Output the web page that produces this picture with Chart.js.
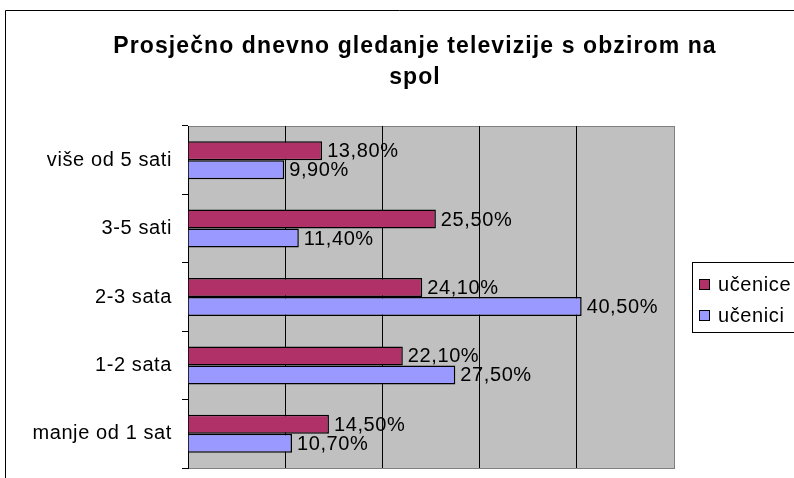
<!DOCTYPE html>
<html>
<head>
<meta charset="utf-8">
<script src="https://cdn.jsdelivr.net/npm/chart.js@4"></script>
<style>
  body { margin: 0; background: #fff; }
</style>
</head>
<body>
<canvas id="tvChart" width="794" height="478"></canvas>
<script>
// data
const titleLines = ['Prosječno dnevno gledanje televizije s obzirom na', 'spol'];
const categories = ['više od 5 sati', '3-5 sati', '2-3 sata', '1-2 sata', 'manje od 1 sat'];
const seriesNames = ['učenice', 'učenici'];
const ucenice = [13.8, 25.5, 24.1, 22.1, 14.5];
const ucenici = [9.9, 11.4, 40.5, 27.5, 10.7];
const xMax = 50;
const xStep = 10;

const FONT = 'Arial, "Liberation Sans", sans-serif';

const fmt = v => v.toFixed(2).replace('.', ',') + '%';

// frame, title and grey plot area
const background = {
    id: 'background',
    beforeDraw(chart) {
        const ctx = chart.ctx;
        const a = chart.chartArea;
        ctx.save();
        ctx.strokeStyle = '#000';
        ctx.lineWidth = 1;
        ctx.beginPath();
        ctx.moveTo(5.5, 478);
        ctx.lineTo(5.5, 10.5);
        ctx.lineTo(794, 10.5);
        ctx.stroke();

        ctx.fillStyle = '#C0C0C0';
        ctx.fillRect(a.left, a.top, a.right - a.left, a.bottom - a.top);
        ctx.strokeStyle = '#808080';
        ctx.strokeRect(a.left + 0.5, a.top + 0.5, a.right - a.left, a.bottom - a.top);

        ctx.fillStyle = '#000';
        ctx.font = 'bold 23px ' + FONT;
        ctx.letterSpacing = '1.1px';
        ctx.textAlign = 'center';
        ctx.textBaseline = 'middle';
        ctx.fillText(titleLines[0], 415, 47);
        ctx.fillText(titleLines[1], 415, 78);
        ctx.restore();
        // Excel-like slightly loose text for the rest of the chart
        ctx.letterSpacing = '0.6px';
    },
    afterDraw(chart) {
        chart.ctx.letterSpacing = '0px';
    }
};

// value labels at the end of each bar
const barLabels = {
    id: 'barLabels',
    afterDatasetsDraw(chart) {
        const ctx = chart.ctx;
        ctx.save();
        ctx.font = '20px ' + FONT;
        ctx.fillStyle = '#000';
        ctx.textAlign = 'left';
        ctx.textBaseline = 'middle';
        chart.data.datasets.forEach((ds, i) => {
            chart.getDatasetMeta(i).data.forEach((bar, j) => {
                ctx.fillText(fmt(ds.data[j]), bar.x + 5, bar.y + 1);
            });
        });
        ctx.restore();
    }
};

// boxed legend on the right
const boxLegend = {
    id: 'boxLegend',
    afterDatasetsDraw(chart) {
        const ctx = chart.ctx;
        ctx.save();
        ctx.strokeStyle = '#000';
        ctx.lineWidth = 1;
        ctx.strokeRect(692.5, 262.5, 120, 70);
        ctx.font = '20px ' + FONT;
        ctx.textAlign = 'left';
        ctx.textBaseline = 'middle';
        chart.data.datasets.forEach((ds, i) => {
            const y = 284 + i * 31;
            ctx.fillStyle = ds.backgroundColor;
            ctx.fillRect(699, y - 5, 11, 11);
            ctx.strokeRect(699.5, y - 4.5, 10, 10);
            ctx.fillStyle = '#000';
            ctx.fillText(ds.label, 718, y + 1);
        });
        ctx.restore();
    }
};

const tvCtx = document.getElementById('tvChart').getContext('2d');
const tvChart = new Chart(tvCtx, {
    type: 'bar',
    data: {
        labels: categories,
        datasets: [{
            label: seriesNames[0],
            data: ucenice,
            backgroundColor: '#B03068',
            borderColor: '#000',
            borderWidth: 1.5
        }, {
            label: seriesNames[1],
            data: ucenici,
            backgroundColor: '#9999FF',
            borderColor: '#000',
            borderWidth: 1.5
        }]
    },
    options: {
        indexAxis: 'y',
        responsive: false,
        animation: false,
        barPercentage: 1,
        categoryPercentage: 0.555,
        layout: {
            padding: { top: 126, right: 120, bottom: 10, left: 0 }
        },
        plugins: {
            legend: { display: false },
            title: { display: false },
            tooltip: { enabled: false }
        },
        scales: {
            x: {
                min: 0,
                max: xMax,
                ticks: { display: false, stepSize: xStep },
                border: { display: false },
                grid: {
                    drawTicks: false,
                    color: c => (c.tick && c.tick.value > 0 && c.tick.value < xMax) ? '#000' : 'rgba(0,0,0,0)'
                },
                afterFit: s => { s.height = 0; s.paddingLeft = 0; s.paddingRight = 0; }
            },
            y: {
                ticks: {
                    color: '#000',
                    padding: 10,
                    font: { family: FONT, size: 20 }
                },
                border: { display: true, color: '#000', width: 1 },
                grid: {
                    offset: true,
                    drawOnChartArea: false,
                    drawTicks: true,
                    tickLength: 6,
                    color: '#000'
                },
                afterFit: s => { s.width = 188; s.paddingTop = 0; s.paddingBottom = 0; }
            }
        }
    },
    plugins: [background, barLabels, boxLegend]
});
</script>
</body>
</html>
